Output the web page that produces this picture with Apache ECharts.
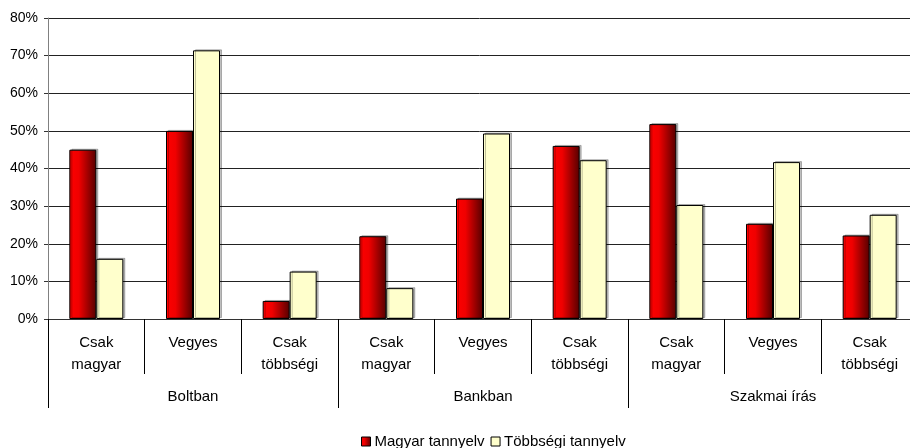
<!DOCTYPE html>
<html>
<head>
<meta charset="utf-8">
<script src="https://cdn.jsdelivr.net/npm/echarts@6/dist/echarts.min.js"></script>
<style>
  html, body { margin: 0; padding: 0; background: #fff; }
  #chart { width: 910px; height: 448px; }
</style>
</head>
<body>
<div id="chart"></div>
<script>
var categories = ['Csak\nmagyar', 'Vegyes', 'Csak\ntöbbségi',
                  'Csak\nmagyar', 'Vegyes', 'Csak\ntöbbségi',
                  'Csak\nmagyar', 'Vegyes', 'Csak\ntöbbségi'];
var groups = ['Boltban', 'Bankban', 'Szakmai írás'];
var magyar = [45, 50, 4.8, 22, 32, 46, 51.8, 25.3, 22.2];
var tobbsegi = [16, 71.4, 12.6, 8.2, 49.3, 42.2, 30.3, 41.7, 27.7];
var yTicks = [0, 80, 10]; // min, max, interval

var font = 'Liberation Sans, Arial, sans-serif';
var chart = echarts.init(document.getElementById('chart'));

var redFill = new echarts.graphic.LinearGradient(0, 0, 1, 0, [
    {offset: 0, color: '#ff0000'},
    {offset: 0.35, color: '#f00000'},
    {offset: 1, color: '#550000'}
]);

chart.setOption({
    animation: false,
    textStyle: {fontFamily: font, color: '#000'},
    grid: {left: 48, top: 18, width: 870, height: 301, containLabel: false, outerBoundsMode: 'none'},
    legend: {
        top: 429,
        left: 356,
        itemWidth: 9,
        itemHeight: 9,
        itemGap: 6,
        icon: 'rect',
        textStyle: {fontFamily: font, fontSize: 15, color: '#000', padding: [0, 0, 0, -1]},
        data: [
            {name: 'Magyar tannyelv', itemStyle: {color: redFill, borderColor: '#000', borderWidth: 1}},
            {name: 'Többségi tannyelv', itemStyle: {color: '#ffffcc', borderColor: '#000', borderWidth: 1}}
        ]
    },
    xAxis: [{
        type: 'category',
        data: categories,
        position: 'bottom',
        axisLine: {lineStyle: {color: '#333', width: 1}},
        axisTick: {show: true, interval: 0, length: 55, lineStyle: {color: '#000'}},
        axisLabel: {interval: 0, margin: 13, fontSize: 15, lineHeight: 22, color: '#000', fontFamily: font}
    }, {
        type: 'category',
        data: groups,
        position: 'bottom',
        axisLine: {show: false},
        axisTick: {show: true, interval: 0, length: 89, lineStyle: {color: '#000'}},
        axisLabel: {interval: 0, margin: 67, fontSize: 15, lineHeight: 22, color: '#000', fontFamily: font}
    }],
    yAxis: {
        type: 'value',
        min: yTicks[0],
        max: yTicks[1],
        interval: yTicks[2],
        axisLine: {show: true, lineStyle: {color: '#808080', width: 1}},
        axisTick: {show: true, length: 4, lineStyle: {color: '#333'}},
        axisLabel: {formatter: '{value}%', fontSize: 14, color: '#000', margin: 10, fontFamily: font},
        splitLine: {lineStyle: {color: '#222', width: 1}}
    },
    series: [{
        name: 'Magyar tannyelv',
        type: 'bar',
        xAxisIndex: 0,
        data: magyar,
        barWidth: 27,
        barGap: '0%',
        itemStyle: {color: redFill, borderColor: '#000', borderWidth: 1,
            shadowColor: 'rgba(0,0,0,0.25)', shadowOffsetX: 2, shadowOffsetY: -1}
    }, {
        name: 'Többségi tannyelv',
        type: 'bar',
        xAxisIndex: 0,
        data: tobbsegi,
        barWidth: 27,
        barGap: '0%',
        itemStyle: {color: '#ffffcc', borderColor: '#000', borderWidth: 1,
            shadowColor: 'rgba(0,0,0,0.25)', shadowOffsetX: 2, shadowOffsetY: -1}
    }]
});
</script>
</body>
</html>
